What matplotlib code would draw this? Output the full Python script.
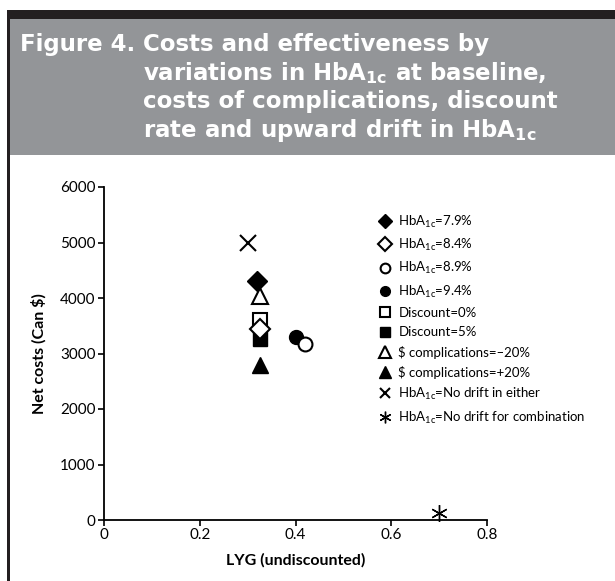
import matplotlib
matplotlib.use("Agg")
import matplotlib.pyplot as plt
from matplotlib.patches import Rectangle

plt.rcParams['font.family'] = ['Lato', 'DejaVu Sans']
plt.rcParams['mathtext.default'] = 'regular'

W, H = 615, 581

# data
labels = [
    "HbA$_{1c}$=7.9%",
    "HbA$_{1c}$=8.4%",
    "HbA$_{1c}$=8.9%",
    "HbA$_{1c}$=9.4%",
    "Discount=0%",
    "Discount=5%",
    "\\$ complications=\u201320%",
    "\\$ complications=+20%",
    "HbA$_{1c}$=No drift in either",
    "HbA$_{1c}$=No drift for combination",
]
lyg = [0.32, 0.325, 0.42, 0.40, 0.325, 0.325, 0.325, 0.325, 0.30, 0.70]
net_costs = [4300, 3450, 3170, 3300, 3600, 3270, 4030, 2800, 5000, 130]
markers = ['D', 'D', 'o', 'o', 's', 's', '^', '^', 'x', (6, 2, 0)]
filled = [True, False, False, True, False, True, False, True, True, True]
sizes = [10, 10, 10, 10, 10, 10, 12, 12, 11, 12]
draw_order = [3, 2, 5, 4, 1, 6, 0, 7, 8, 9]

x_ticks = [0, 0.2, 0.4, 0.6, 0.8]
y_ticks = [0, 1000, 2000, 3000, 4000, 5000, 6000]


def px(x0, y0, x1, y1):
    # pixel box (top-left origin) -> figure fraction rect
    return [x0 / W, 1 - y1 / H, (x1 - x0) / W, (y1 - y0) / H]


fig = plt.figure(figsize=(W / 100, H / 100), dpi=100)

# frame: black top bar, left rule, grey header
for (x0, y0, x1, y1, c) in [(7, 10, 615, 19, '#231f20'),
                            (7, 10, 10, 581, '#231f20'),
                            (10, 19, 615, 155, '#939598')]:
    r = px(x0, y0, x1, y1)
    fig.add_artist(Rectangle((r[0], r[1]), r[2], r[3], transform=fig.transFigure,
                             facecolor=c, edgecolor='none'))

title_lines = ["Costs and effectiveness by",
               "variations in HbA$_{1c}$ at baseline,",
               "costs of complications, discount",
               "rate and upward drift in HbA$_{1c}$"]
baselines = [51, 80, 108, 137]
tkw = dict(color='white', fontsize=16.5, fontweight='bold', va='baseline', ha='left',
           family='DejaVu Sans')
fig_lbl = fig.text(20 / W, 1 - baselines[0] / H, "Figure 4.", **tkw)
fig.canvas.draw()
bb = fig_lbl.get_window_extent()
indent = (bb.x1 + 8) / W
for line, b in zip(title_lines, baselines):
    fig.text(indent, 1 - b / H, line, **tkw)

ax = fig.add_axes(px(104, 187, 487, 520))
for i in draw_order:
    ax.plot(lyg[i], net_costs[i], linestyle='none', marker=markers[i],
            markersize=sizes[i], color='black',
            markerfacecolor='black' if filled[i] else 'white',
            markeredgecolor='black', markeredgewidth=1.5 if not filled[i] or markers[i] in ('x',) else 1.0,
            label=labels[i], clip_on=False)

handles, lbls = ax.get_legend_handles_labels()
order = sorted(range(len(draw_order)), key=lambda k: draw_order[k])
leg = ax.legend([handles[k] for k in order], [lbls[k] for k in order],
                loc='upper left', bbox_to_anchor=(372 / W, 1 - 207 / H),
                bbox_transform=fig.transFigure, frameon=False, fontsize=9.5,
                markerscale=0.7, handlelength=1.0, handletextpad=0.5,
                labelspacing=0.55, borderpad=0, numpoints=1)

ax.set_xlim(0, 0.8)
ax.set_ylim(0, 6000)
ax.set_xticks(x_ticks)
ax.set_xticklabels(['0', '0.2', '0.4', '0.6', '0.8'])
ax.set_yticks(y_ticks)
for s in ['top', 'right']:
    ax.spines[s].set_visible(False)
for s in ['left', 'bottom']:
    ax.spines[s].set_linewidth(1.3)
ax.tick_params(direction='out', length=4, width=1.2, labelsize=11, pad=2)
ax.set_xlabel("LYG (undiscounted)", fontsize=11.5, fontweight='bold', labelpad=8)
ax.set_ylabel("Net costs (Can $)", fontsize=11.5, fontweight='bold', labelpad=10)

fig.savefig("out.png", dpi=100)
